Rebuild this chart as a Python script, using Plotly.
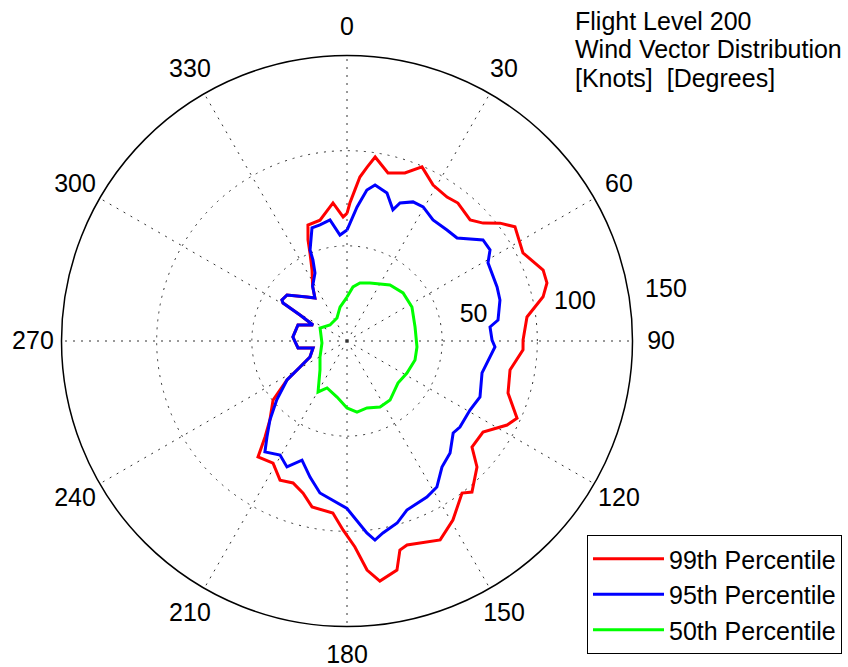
import plotly.graph_objects as go

# Wind vector distribution at FL200: speed (knots) versus direction (degrees)
red_theta = [0, 1.2, 3.0, 4.5, 6.6, 8.7, 13.7, 19.0, 23.3, 28.9, 34.8, 38.8, 45.5, 49.1,
             52.4, 55.8, 63.4, 70.1, 73.8, 77.3, 82.4, 89.7, 92.9, 100.1, 107.9, 114.4,
             117.7, 123.8, 130.3, 134.1, 140.4, 142.9, 149.4, 154.9, 163.6, 165.8, 167.7,
             172.2, 175.0, 177.8, 181.2, 184.7, 191.9, 196.1, 200.8, 205.7, 211.2, 217.5,
             220.5, 224.3, 231.4, 237, 241, 246.6, 258.4, 261.9, 274.2, 288.1, 295.2,
             298.9, 300.7, 302.2, 307.5, 317.7, 323.3, 327.9, 333.8, 337.2, 338.9, 341.4,
             347.4, 354.2, 358.2]
red_r = [67.1, 72.5, 79.5, 86.4, 92.0, 97.8, 90.9, 93.4, 99.6, 93.6, 92.1, 93.0, 90.7, 94.6,
         101.5, 106.7, 103.4, 109.6, 109.4, 105.6, 95.4, 92.5, 92.6, 87.0, 88.9, 98.1,
         95.0, 86.0, 86.1, 95.1, 103.0, 100.2, 109.3, 115.4, 111.7, 113.3, 123.2,
         127.3, 120.8, 108.3, 99.3, 90.7, 89.1, 83.2, 79.8, 81.1, 75.0, 76.8,
         66.3, 58.0, 49.7, 37.6, 28.2, 21.2, 18.2, 26.0, 28.5, 27.1, 19.7,
         28.2, 39.1, 40.4, 39.7, 31.3, 28.2, 34.0, 41.6, 50.2, 56.9, 64.3,
         65.0, 72.9, 65.2]

blue_theta = [0, 4.3, 7.5, 10.2, 15.1, 19.3, 21.0, 25.4, 29.6, 35.4, 42.0, 46.9, 53.4, 57.5,
              61.0, 70.2, 75.0, 82.1, 84.4, 89.6, 92.3, 103.3, 112.8, 119.3, 127.3, 130.9,
              137.4, 143.0, 148.4, 152.9, 160.5, 164.6, 169.4, 172.0, 174.1, 180, 190.1,
              195.2, 200.7, 205.5, 210.4, 216.5, 219.8, 224.3, 230.1, 237, 241, 246.6,
              258.4, 261.9, 274.2, 288.1, 295.2, 298.9, 300.7, 302.2, 307.5, 317.7, 323.3,
              327.9, 334.8, 337.2, 337.9, 342.8, 346.9, 352.0, 356.2]
blue_r = [58.3, 70.6, 80.0, 83.3, 80.6, 73.0, 77.7, 80.9, 81.0, 78.0, 78.5, 79.2, 89.0, 89.1,
          84.7, 83.8, 83.2, 80.1, 75.5, 76.2, 77.8, 72.9, 75.8, 74.1, 74.6, 73.8,
          80.0, 82.9, 90.1, 92.1, 94.2, 99.2, 102.6, 105.6, 101.4, 88.0, 81.1,
          74.1, 66.9, 73.3, 69.5, 72.5, 65.7, 58.0, 48.1, 37.6, 28.2, 21.2,
          18.2, 26.0, 28.5, 27.1, 19.7, 28.2, 39.1, 40.4, 39.7, 31.3, 28.2,
          34.0, 39.5, 46.2, 51.6, 62.2, 62.6, 64.2, 55.8]

green_theta = [0, 6.3, 12.6, 21.6, 37.5, 49.4, 62.4, 78.4, 94.9, 105.6, 118.1, 129.5, 143.9,
               153.4, 163.4, 172, 180, 190.1, 203, 209.6, 223, 239.3, 265.4, 295.7, 313.3,
               336.5, 348.4]
green_r = [23.1, 28.6, 31.2, 32.8, 37.1, 38.8, 38.5, 36.5, 36.9, 37.1, 35.7, 34.7, 38.4,
           38.8, 36.7, 37.7, 35.2, 29.9, 26.8, 30.8, 20.8, 16.5, 13.2, 15.7, 12.3,
           13.2, 18.2]

series_names = ["99th Percentile", "95th Percentile", "50th Percentile"]
series_colors = ["#FF0000", "#0000FF", "#00FF00"]

angle_ticks = [0, 30, 60, 90, 120, 150, 180, 210, 240, 270, 300, 330]
angle_labels = ["0", "30", "60", "90", "120", "150", "180", "210", "240", "270", "300", "330"]
radial_ticks = [50, 100, 150]
radial_labels = ["50", "100", "150"]
title_lines = ["Flight Level 200", "Wind Vector Distribution", "[Knots]\u00a0 [Degrees]"]

R_MAX = 150          # outer ring of the plot
LABEL_MAX = 170      # extent of the overlay used for the labels around the rim
FONT = dict(family="Liberation Sans, Arial, Helvetica, sans-serif", size=25, color="black")
W, H = 848, 667
CX, CY, RPX = 347, 341, 285.5   # plot centre and rim radius in pixels

fig = go.Figure()

for name, th, rr, col in zip(series_names,
                             [red_theta, blue_theta, green_theta],
                             [red_r, blue_r, green_r],
                             series_colors):
    fig.add_trace(go.Scatterpolar(
        r=rr + [rr[0]], theta=th + [th[0]], mode="lines",
        line=dict(color=col, width=3), name=name, subplot="polar"))

# compass labels just outside the rim (drawn on a transparent overlay)
fig.add_trace(go.Scatterpolar(
    r=[R_MAX * 1.1] * len(angle_ticks), theta=angle_ticks, mode="text",
    text=angle_labels, textfont=FONT, textposition="middle center",
    showlegend=False, hoverinfo="skip", subplot="polar2"))

# speed ring labels
fig.add_trace(go.Scatterpolar(
    r=[t + off for t, off in zip(radial_ticks, [18, 21.6, 19.8])],
    theta=[78, 80, 80.7], mode="text",
    text=radial_labels, textfont=FONT, textposition="middle center",
    showlegend=False, hoverinfo="skip", subplot="polar2"))


def domain(radius_px, dy=0.0):
    cy = CY + dy
    return dict(x=[(CX - radius_px) / W, (CX + radius_px) / W],
                y=[max(0.0, 1 - (cy + radius_px) / H), min(1.0, 1 - (cy - radius_px) / H)])


grid = dict(showgrid=True, gridcolor="#333333", gridwidth=1, griddash="2px,6px")
hidden = dict(showgrid=False, showline=False, showticklabels=False, ticks="")

fig.update_layout(
    template="none",
    width=W, height=H,
    margin=dict(l=0, r=0, t=0, b=0),
    paper_bgcolor="white",
    font=FONT,
    polar=dict(
        domain=domain(RPX),
        bgcolor="white",
        angularaxis=dict(
            rotation=90, direction="clockwise",
            tickmode="array", tickvals=angle_ticks,
            showticklabels=False, ticks="",
            showline=True, linecolor="black", linewidth=1.5, **grid,
        ),
        radialaxis=dict(
            range=[0, R_MAX], tickmode="array", tickvals=radial_ticks,
            showticklabels=False, ticks="", showline=False, **grid,
        ),
    ),
    polar2=dict(
        domain=domain(RPX * LABEL_MAX / R_MAX, dy=2),
        bgcolor="rgba(0,0,0,0)",
        angularaxis=dict(rotation=90, direction="clockwise", **hidden),
        radialaxis=dict(range=[0, LABEL_MAX], **hidden),
    ),
    legend=dict(
        x=587 / W, y=1 - 535 / H, xanchor="left", yanchor="top",
        bgcolor="white", bordercolor="black", borderwidth=1,
        font=FONT, itemwidth=71,
    ),
    showlegend=True,
)

for i, line in enumerate(title_lines):
    fig.add_annotation(
        x=573 / W, y=1 - (21 + 28.5 * i) / H, xref="paper", yref="paper",
        xanchor="left", yanchor="middle", showarrow=False,
        text=line, font=FONT)

fig.write_html("out.html")
